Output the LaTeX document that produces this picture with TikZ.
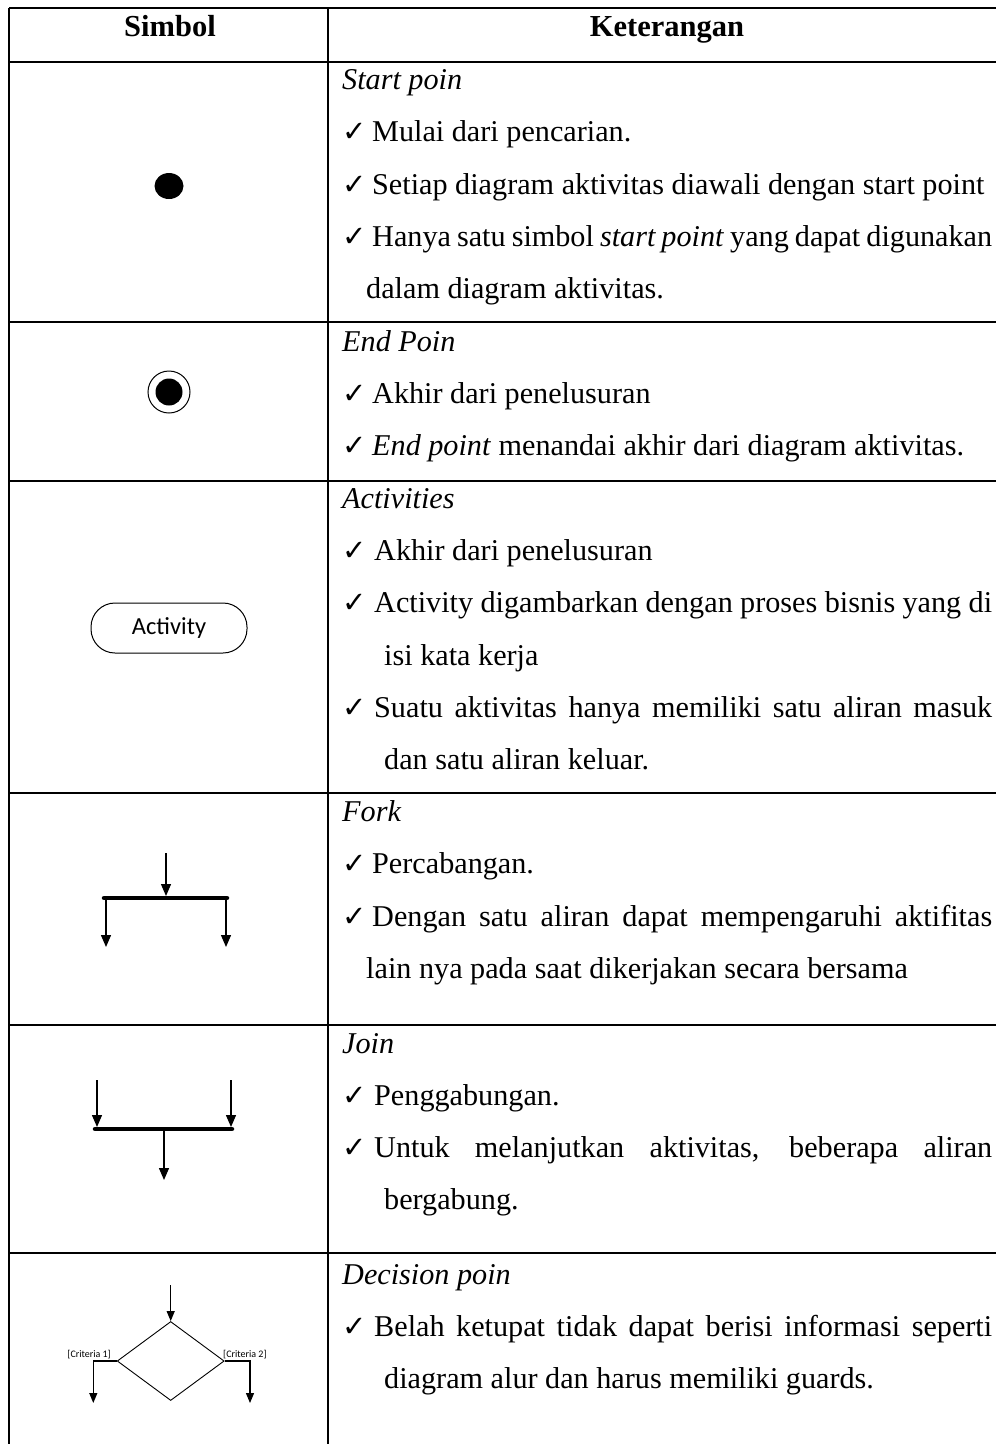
\documentclass[tikz,border=0pt]{standalone}
\usepackage{fontspec}
\setmainfont{Liberation Serif}
\newfontfamily\uifont{Carlito}
\newfontfamily\symfont{DejaVu Sans}
\usetikzlibrary{arrows.meta,shapes.geometric}

% check mark bullet followed by the item text
\newcommand{\ck}[1][30pt]{\makebox[#1][l]{\fontsize{29}{29}\symfont ✓}}
% a line spread to the full column width
\newcommand{\just}[1]{\makebox[650pt][s]{#1}}

\begin{document}
\begin{tikzpicture}[x=1pt,y=-1pt,
  grid/.style={line width=2pt},
  thin grid/.style={line width=1.6pt},
  txt/.style={anchor=base west, inner sep=0pt, font=\fontsize{30.2}{36}\selectfont},
  head/.style={anchor=base, inner sep=0pt, font=\fontsize{30.5}{36}\selectfont\bfseries},
  flow/.style={line width=1.3pt, -{Triangle[length=12pt,width=10pt]}},
  small flow/.style={line width=1.2pt, -{Triangle[length=10pt,width=8pt]}},
  bar/.style={line width=4.5pt, line cap=round},
  guard/.style={inner sep=0pt, font=\fontsize{10}{12}\uifont}
]
\useasboundingbox (0,0) rectangle (996,1444);

% ---- table frame ----
\draw[grid] (9,8) -- (996,8);
\draw[grid] (9,62) -- (996,62);
\draw[grid] (9,8) -- (9,1444);
\draw[thin grid] (328,8) -- (328,1444);
\foreach \y in {322,481,793,1025,1253}
  \draw[grid] (9,\y) -- (996,\y);

% ---- header ----
\node[head] (hsym) at (170,36) {Simbol};
\node[head] (hket) at (667,36) {Keterangan};

% ---- start point ----
\node[fill=black, ellipse, minimum width=29pt, minimum height=26pt, inner sep=0pt] (start) at (169,186) {};
\node[txt] (s0) at (342,89) {\itshape Start poin};
\node[txt] (s1) at (342,141) {\ck Mulai dari pencarian.};
\node[txt] (s2) at (342,194) {\ck Setiap diagram aktivitas diawali dengan start point};
\node[txt] (s3) at (342,246) {\just{\ck Hanya satu simbol \textit{start point} yang dapat digunakan}};
\node[txt] (s4) at (366,298) {dalam diagram aktivitas.};

% ---- end point ----
\node[draw, circle, line width=1pt, minimum size=42pt, inner sep=0pt] (endo) at (169,392) {};
\node[fill=black, circle, minimum size=27pt, inner sep=0pt] (endi) at (endo.center) {};
\node[txt] (e0) at (342,351) {\itshape End Poin};
\node[txt] (e1) at (342,403) {\ck Akhir dari penelusuran};
\node[txt] (e2) at (342,455) {\ck\textit{End point} menandai akhir dari diagram aktivitas.};

% ---- activity ----
\node[draw, line width=1pt, rounded corners=24pt, minimum width=156pt, minimum height=50pt,
      font=\fontsize{24.5}{27}\uifont] (act) at (169,628) {Activity};
\node[txt] (a0) at (342,508) {\itshape Activities};
\node[txt] (a1) at (342,560) {\ck[32pt]Akhir dari penelusuran};
\node[txt] (a2) at (342,612) {\just{\ck[32pt]Activity digambarkan dengan proses bisnis yang di}};
\node[txt] (a3) at (384,665) {isi kata kerja};
\node[txt] (a4) at (342,717) {\just{\ck[32pt]Suatu aktivitas hanya memiliki satu aliran masuk}};
\node[txt] (a5) at (384,769) {dan satu aliran keluar.};

% ---- fork ----
\coordinate (fkin) at (166,853);
\coordinate (fkbar) at (166,896);
\coordinate (fkl) at (104,898);
\coordinate (fkr) at (227,898);
\coordinate (fklo) at (106,947);
\coordinate (fkro) at (226,947);
\draw[bar] (fkl) -- (fkr);
\draw[flow] (fkin) -- (fkbar);
\draw[flow] (fkl -| fklo) -- (fklo);
\draw[flow] (fkr -| fkro) -- (fkro);
\node[txt] (f0) at (342,821) {\itshape Fork};
\node[txt] (f1) at (342,873) {\ck Percabangan.};
\node[txt] (f2) at (342,926) {\just{\ck Dengan satu aliran dapat mempengaruhi aktifitas}};
\node[txt] (f3) at (366,978) {lain nya pada saat dikerjakan secara bersama};

% ---- join ----
\coordinate (jl) at (95,1129);
\coordinate (jr) at (232,1129);
\coordinate (jlin) at (97,1080);
\coordinate (jrin) at (231,1080);
\coordinate (jout) at (164,1180);
\draw[bar] (jl) -- (jr);
\draw[flow] (jlin) -- (97,1127);
\draw[flow] (jrin) -- (231,1127);
\draw[flow] (jl -| jout) -- (jout);
\node[txt] (j0) at (342,1053) {\itshape Join};
\node[txt] (j1) at (342,1105) {\ck[32pt]Penggabungan.};
\node[txt] (j2) at (342,1157) {\just{\ck[32pt]Untuk melanjutkan aktivitas, beberapa aliran}};
\node[txt] (j3) at (384,1209) {bergabung.};

% ---- decision ----
\node[draw, diamond, line width=0.9pt, minimum width=107pt, minimum height=79pt, inner sep=0pt] (dec) at (170.7,1361) {};
\coordinate (din) at (170.7,1285);
\coordinate (dl) at (93.3,1403);
\coordinate (dr) at (250,1403);
\draw[small flow] (din) -- (dec.north);
\draw[small flow] (dec.west) -| (dl);
\draw[small flow] (dec.east) -| (dr);
\node[guard, anchor=base east] (g1) at (111,1357) {[Criteria 1]};
\node[guard, anchor=base west] (g2) at (223,1357) {[Criteria 2]};
\node[txt] (d0) at (342,1284) {\itshape Decision poin};
\node[txt] (d1) at (342,1336) {\just{\ck[32pt]Belah ketupat tidak dapat berisi informasi seperti}};
\node[txt] (d2) at (384,1388) {diagram alur dan harus memiliki guards.};
\end{tikzpicture}
\end{document}
